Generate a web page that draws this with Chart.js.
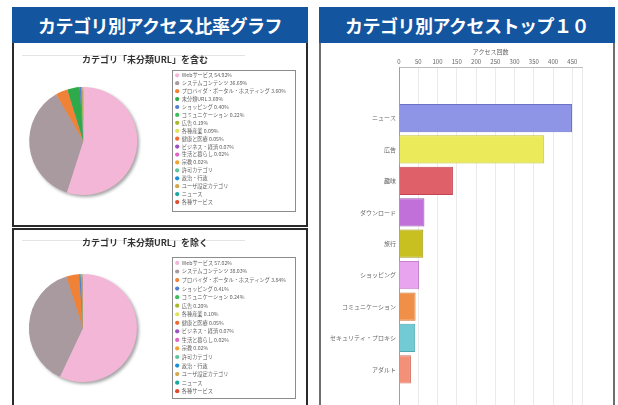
<!DOCTYPE html>
<html><head><meta charset="utf-8">
<script src="https://cdn.jsdelivr.net/npm/chart.js@4.4.1/dist/chart.umd.min.js"></script>
<style>
html,body{margin:0;padding:0;width:618px;height:405px;overflow:hidden;background:#fff;font-family:"Noto Sans CJK JP",sans-serif;}
.hdr{position:absolute;top:7px;height:36px;width:296px;background:#14559f;color:#fff;font-weight:bold;font-size:18px;line-height:36px;text-align:center;letter-spacing:-0.5px;}
.box{position:absolute;box-sizing:border-box;}
.rule{position:absolute;height:1px;background:#e4e4e4;}
canvas{position:absolute;}
</style></head><body>
<div class="hdr" style="left:12px">カテゴリ別アクセス比率グラフ</div>
<div class="hdr" style="left:319px">カテゴリ別アクセストップ１０</div>
<div class="box" style="left:12px;top:43px;width:296px;height:184px;border:2px solid #2a2a2a;border-top:none"></div>
<div class="box" style="left:12px;top:228px;width:296px;height:200px;border:2px solid #2a2a2a;border-bottom:none"></div>
<div class="box" style="left:319px;top:43px;width:296px;height:380px;border:2px solid #6e6e6e;border-top:none"></div>
<div class="rule" style="left:22px;top:55px;width:223px"></div>
<div class="rule" style="left:22px;top:240px;width:223px"></div>
<canvas id="pie1" width="302" height="166" style="left:-6px;top:46px"></canvas>
<canvas id="pie2" width="302" height="166" style="left:-6px;top:233px"></canvas>
<canvas id="bar" width="292" height="383" style="left:322px;top:44px"></canvas>
<script>
// ---- data: pie with 未分類URL ----
const withCats = ['Webサービス','システムコンテンツ','プロバイダ・ポータル・ホスティング','未分類URL','ショッピング','コミュニケーション','広告','各種産業','健康と医療','ビジネス・経済','生活と暮らし','宗教','許可カテゴリ','政治・行政','ユーザ設定カテゴリ','ニュース','各種サービス'];
const withPct = [54.92, 36.69, 3.60, 3.69, 0.40, 0.22, 0.19, 0.09, 0.05, 0.07, 0.02, 0.02, 0, 0, 0, 0, 0];
const withColors = ['#f4b6d6','#a99a9f','#f08238','#2eaa4a','#4f7fd0','#3cbf5a','#a8b82c','#e2e25a','#ef6a33','#9b4fc2','#e064c8','#f2a232','#5cc49a','#1a8fd6','#d2a84a','#1aa59e','#e04a2e'];
// ---- data: pie without 未分類URL ----
const withoutCats = ['Webサービス','システムコンテンツ','プロバイダ・ポータル・ホスティング','ショッピング','コミュニケーション','広告','各種産業','健康と医療','ビジネス・経済','生活と暮らし','宗教','許可カテゴリ','政治・行政','ユーザ設定カテゴリ','ニュース','各種サービス'];
const withoutPct = [57.02, 38.03, 3.84, 0.41, 0.24, 0.20, 0.10, 0.05, 0.07, 0.02, 0.02, 0, 0, 0, 0, 0];
const withoutColors = ['#f4b6d6','#a99a9f','#f08238','#4f7fd0','#3cbf5a','#a8b82c','#e2e25a','#ef6a33','#9b4fc2','#e064c8','#f2a232','#5cc49a','#1a8fd6','#d2a84a','#1aa59e','#e04a2e'];
// ---- data: top 10 bar ----
const accessCats = ['ニュース','広告','趣味','ダウンロード','旅行','ショッピング','コミュニケーション','セキュリティ・プロキシ','アダルト'];
const accessCounts = [449, 377, 140, 66, 63, 52, 43, 42, 31];
const accessColors = ['#8f95e6','#eaea5a','#e0606a','#c070d8','#c8c020','#e8a4ee','#f09048','#72cad4','#f29078'];
const accessBorders = ['#6b72c8','#c2c232','#c04452','#9a50b0','#a09a12','#c482cc','#d07032','#50a8b2','#d47060'];
const countTicks = [0, 50, 100, 150, 200, 250, 300, 350, 400, 450];
const countMax = 475;

const FAM = "'Noto Sans CJK JP', sans-serif";
Chart.defaults.font.family = FAM;
Chart.defaults.animation = false;

const legendBox = {
  id: 'legendBox',
  afterDraw(chart, args, opts) {
    const l = chart.legend; if (!l || !opts || !opts.on) return;
    const ctx = chart.ctx; ctx.save();
    ctx.strokeStyle = '#8c8c8c'; ctx.lineWidth = 1;
    const ins = opts.inset || 0;
    ctx.strokeRect(Math.round(l.left) + 0.5, Math.round(l.top + ins) + 0.5, Math.round(l.width) - 1, Math.round(l.height - 2 * ins) - 1);
    ctx.restore();
  }
};
const pieShadow = {
  id: 'pieShadow',
  beforeDatasetsDraw(chart, args, opts) {
    if (!opts || !opts.on) return;
    const a = chart.getDatasetMeta(0).data[0]; if (!a) return;
    const ctx = chart.ctx; ctx.save();
    ctx.filter = 'blur(1.5px)';
    ctx.fillStyle = 'rgba(60,60,60,0.45)';
    ctx.beginPath(); ctx.arc(a.x + 2, a.y + 2, a.outerRadius, 0, Math.PI * 2); ctx.fill();
    ctx.restore();
  }
};

function pieChart(id, cats, pct, colors, title, pt, pb, pad) {
  const labels = cats.map((n, i) => pct[i] > 0 ? n + ' ' + pct[i].toFixed(2) + '%' : n);
  return new Chart(document.getElementById(id), {
    type: 'pie',
    data: { labels, datasets: [{ data: pct, backgroundColor: colors, borderWidth: 0, radius: 54 }] },
    plugins: [legendBox, pieShadow],
    options: {
      responsive: false,
      layout: { padding: 0 },
      plugins: {
        title: { display: true, text: title, color: '#333', font: { size: 9, weight: 'bold', family: FAM }, padding: { top: pt, bottom: pb } },
        legend: {
          position: 'right', align: 'start', fullSize: false,
          labels: { usePointStyle: true, pointStyle: 'circle', boxWidth: 4, boxHeight: 3, padding: pad, color: '#606060', font: { size: 5.2, family: FAM } }
        },
        tooltip: { enabled: false },
        legendBox: { on: true, inset: 0 },
        pieShadow: { on: true }
      }
    }
  });
}
pieChart('pie1', withCats, withPct, withColors, 'カテゴリ「未分類URL」を含む', 8.6, 4.6, 2.72);
pieChart('pie2', withoutCats, withoutPct, withoutColors, 'カテゴリ「未分類URL」を除く', 4.6, 8.6, 3.35);

new Chart(document.getElementById('bar'), {
  type: 'bar',
  data: {
    datasets: [{
      data: accessCounts.map((v, i) => ({ x: v, y: i })),
      backgroundColor: accessColors, borderColor: accessBorders, borderWidth: 1,
      categoryPercentage: 1, barPercentage: 0.9
    }]
  },
  options: {
    responsive: false,
    indexAxis: 'y',
    layout: { padding: { left: 0, right: 32, top: 0, bottom: 0 } },
    plugins: { legend: { display: false }, tooltip: { enabled: false } },
    scales: {
      x: {
        type: 'linear', position: 'top', min: 0, max: countMax,
        afterBuildTicks: s => { s.ticks = countTicks.concat([countMax]).map(v => ({ value: v })); },
        afterFit: s => { s.height = 23; },
        ticks: { callback: v => countTicks.includes(v) ? v : '', font: { size: 6 }, color: '#666', padding: 2, maxRotation: 0, autoSkip: false },
        grid: { color: '#ebebeb', drawTicks: false },
        border: { color: '#bdbdbd' },
        title: { display: true, text: 'アクセス回数', font: { size: 6 }, color: '#666', padding: { top: 4, bottom: 0 } }
      },
      y: {
        type: 'linear', reverse: true, min: -1, max: 9,
        afterBuildTicks: s => { s.ticks = accessCats.map((c, i) => ({ value: i })); },
        afterFit: s => { s.width = 77; },
        ticks: { callback: v => accessCats[v], font: { size: 6 }, color: '#666', padding: 3, autoSkip: false },
        grid: { display: false, drawTicks: false },
        border: { color: '#a0a0a0' }
      }
    }
  }
});
</script>
</body></html>
